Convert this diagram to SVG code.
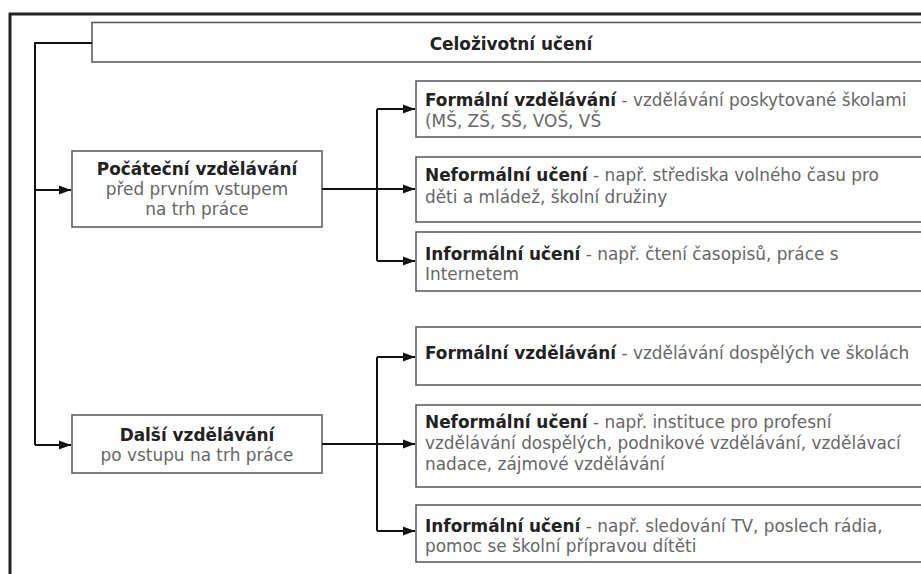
<svg xmlns="http://www.w3.org/2000/svg" width="921" height="574" viewBox="0 0 921 574">
<style>
.box{fill:#fff;stroke:#555;stroke-width:1.5}
.t{font-family:"DejaVu Sans",Verdana,sans-serif;font-size:16.9px;fill:#666}
.b{font-weight:bold;fill:#222}
.c{text-anchor:middle}
.ln{fill:none;stroke:#111;stroke-width:2}
</style>
<defs>
<marker id="ah" viewBox="0 0 12 10" refX="12" refY="5" markerWidth="12" markerHeight="10" markerUnits="userSpaceOnUse" orient="auto">
<path d="M0,0.5 L12,5 L0,9.5 Z" fill="#111"/>
</marker>
</defs>
<rect width="921" height="574" fill="#fff"/>
<g id="frame">
<path d="M10,574 V14 H921" fill="none" stroke="#222" stroke-width="3"/>
</g>
<g id="title">
<path d="M921,22.5 H92 V62 H921" class="box" stroke="#333" stroke-width="2"/>
<text x="511" y="50" class="t b c">Celoživotní učení</text>
</g>
<g id="pocatecni">
<rect x="72" y="151" width="250" height="76" class="box"/>
<text x="197" y="175" class="t b c">Počáteční vzdělávání</text>
<text x="197" y="195" class="t c">před prvním vstupem</text>
<text x="197" y="215" class="t c">na trh práce</text>
</g>
<g id="dalsi">
<rect x="72" y="415" width="250" height="58" class="box"/>
<text x="197" y="441" class="t b c">Další vzdělávání</text>
<text x="197" y="461" class="t c">po vstupu na trh práce</text>
</g>
<g id="formalni1">
<rect x="416" y="81" width="520" height="56" class="box"/>
<text x="425" y="106" class="t"><tspan class="b">Formální vzdělávání</tspan> - vzdělávání poskytované školami</text>
<text x="425" y="127" class="t">(MŠ, ZŠ, SŠ, VOŠ, VŠ</text>
</g>
<g id="neformalni1">
<rect x="416" y="157" width="520" height="65" class="box"/>
<text x="425" y="181" class="t"><tspan class="b">Neformální učení</tspan> - např. střediska volného času pro</text>
<text x="425" y="203" class="t">děti a mládež, školní družiny</text>
</g>
<g id="informalni1">
<rect x="416" y="232" width="520" height="59" class="box"/>
<text x="425" y="260" class="t"><tspan class="b">Informální učení</tspan> - např. čtení časopisů, práce s</text>
<text x="425" y="280" class="t">Internetem</text>
</g>
<g id="formalni2">
<rect x="416" y="327" width="520" height="58" class="box"/>
<text x="425" y="359" class="t"><tspan class="b">Formální vzdělávání</tspan> - vzdělávání dospělých ve školách</text>
</g>
<g id="neformalni2">
<rect x="416" y="405" width="520" height="82" class="box"/>
<text x="425" y="428" class="t"><tspan class="b">Neformální učení</tspan> - např. instituce pro profesní</text>
<text x="425" y="449" class="t">vzdělávání dospělých, podnikové vzdělávání, vzdělávací</text>
<text x="425" y="470" class="t">nadace, zájmové vzdělávání</text>
</g>
<g id="informalni2">
<rect x="416" y="505" width="520" height="57" class="box"/>
<text x="425" y="532" class="t"><tspan class="b">Informální učení</tspan> - např. sledování TV, poslech rádia,</text>
<text x="425" y="552" class="t">pomoc se školní přípravou dítěti</text>
</g>
<g id="connectors">
<path d="M92,43 H35 V445" class="ln"/>
<path d="M35,190 H71" class="ln" marker-end="url(#ah)"/>
<path d="M35,445 H71" class="ln" marker-end="url(#ah)"/>
<path d="M322,189 H377" class="ln"/>
<path d="M377,109 V261" class="ln"/>
<path d="M377,109 H415" class="ln" marker-end="url(#ah)"/>
<path d="M377,189 H415" class="ln" marker-end="url(#ah)"/>
<path d="M377,261 H415" class="ln" marker-end="url(#ah)"/>
<path d="M322,444 H377" class="ln"/>
<path d="M377,357 V531" class="ln"/>
<path d="M377,357 H415" class="ln" marker-end="url(#ah)"/>
<path d="M377,444 H415" class="ln" marker-end="url(#ah)"/>
<path d="M377,531 H415" class="ln" marker-end="url(#ah)"/>
</g>
</svg>
